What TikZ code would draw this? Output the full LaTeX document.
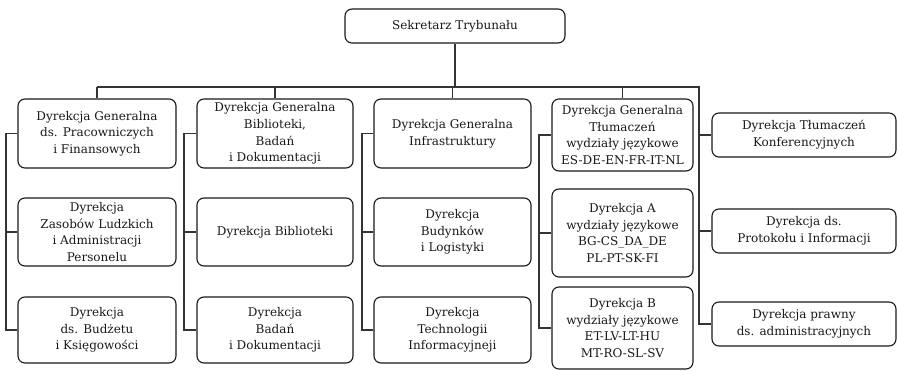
\documentclass[tikz,border=0pt]{standalone}
\usepackage{fontspec}
\setmainfont{DejaVu Serif}
\begin{document}
\begin{tikzpicture}[x=1pt,y=-1pt,
  box/.style={draw=black!90, line width=1.1pt, rounded corners=7pt, align=center,
    inner sep=0pt, text=black!90, font=\fontsize{12}{16.7}\selectfont},
  conn/.style={draw=black!80, line width=1.1pt}]
\useasboundingbox (0,0) rectangle (897,371);
% top
\node[box, minimum width=220pt, minimum height=34pt] (top) at (455,26) {Sekretarz Trybunału};
% column 1
\node[box, minimum width=158pt, minimum height=69pt] (a1) at (97,133.5) {Dyrekcja Generalna\\ds. Pracowniczych\\i Finansowych};
\node[box, minimum width=158pt, minimum height=68pt] (a2) at (97,232) {Dyrekcja\\Zasobów Ludzkich\\i Administracji\\Personelu};
\node[box, minimum width=158pt, minimum height=66pt] (a3) at (97,330) {Dyrekcja\\ds. Budżetu\\i Księgowości};
% column 2
\node[box, minimum width=156pt, minimum height=69pt] (b1) at (275,133.5) {Dyrekcja Generalna\\Biblioteki,\\Badań\\i Dokumentacji};
\node[box, minimum width=156pt, minimum height=68pt] (b2) at (275,232) {Dyrekcja Biblioteki};
\node[box, minimum width=156pt, minimum height=66pt] (b3) at (275,330) {Dyrekcja\\Badań\\i Dokumentacji};
% column 3
\node[box, minimum width=157pt, minimum height=69pt] (c1) at (452.5,133.5) {Dyrekcja Generalna\\Infrastruktury};
\node[box, minimum width=157pt, minimum height=68pt] (c2) at (452.5,232) {Dyrekcja\\Budynków\\i Logistyki};
\node[box, minimum width=157pt, minimum height=66pt] (c3) at (452.5,330) {Dyrekcja\\Technologii\\Informacyjneji};
% column 4
\node[box, minimum width=141pt, minimum height=72pt] (d1) at (622.5,135) {Dyrekcja Generalna\\Tłumaczeń\\wydziały językowe\\ES-DE-EN-FR-IT-NL};
\node[box, minimum width=141pt, minimum height=88pt] (d2) at (622.5,233) {Dyrekcja A\\wydziały językowe\\BG-CS\_DA\_DE\\PL-PT-SK-FI};
\node[box, minimum width=141pt, minimum height=82pt] (d3) at (622.5,328) {Dyrekcja B\\wydziały językowe\\ET-LV-LT-HU\\MT-RO-SL-SV};
% right column
\node[box, minimum width=184pt, minimum height=44pt] (e1) at (804,135) {Dyrekcja Tłumaczeń\\Konferencyjnych};
\node[box, minimum width=184pt, minimum height=44pt] (e2) at (804,231) {Dyrekcja ds.\\Protokołu i Informacji};
\node[box, minimum width=184pt, minimum height=44pt] (e3) at (804,324) {Dyrekcja prawny\\ds. administracyjnych};
% coordinates
\coordinate (busL) at (97,87);
\coordinate (busR) at (699,87);
\coordinate (s1) at (6,0);
\coordinate (s2) at (184,0);
\coordinate (s3) at (362,0);
\coordinate (s4) at (539,0);
% connectors
\draw[conn] (top.south) -- (top.south |- busL);
\draw[conn] (busL) -- (busR) -- (busR |- e3.west) -- (e3.west);
\draw[conn] (busR |- e1.west) -- (e1.west);
\draw[conn] (busR |- e2.west) -- (e2.west);
\draw[conn] (a1.north) -- (a1.north |- busL);
\draw[conn] (b1.north) -- (b1.north |- busL);
\draw[conn] (c1.north) -- (c1.north |- busL);
\draw[conn] (d1.north) -- (d1.north |- busL);
\draw[conn] (a1.west) -- (a1.west -| s1) -- (a3.west -| s1) -- (a3.west);
\draw[conn] (a2.west -| s1) -- (a2.west);
\draw[conn] (b1.west) -- (b1.west -| s2) -- (b3.west -| s2) -- (b3.west);
\draw[conn] (b2.west -| s2) -- (b2.west);
\draw[conn] (c1.west) -- (c1.west -| s3) -- (c3.west -| s3) -- (c3.west);
\draw[conn] (c2.west -| s3) -- (c2.west);
\draw[conn] (d1.west) -- (d1.west -| s4) -- (d3.west -| s4) -- (d3.west);
\draw[conn] (d2.west -| s4) -- (d2.west);
\end{tikzpicture}
\end{document}
